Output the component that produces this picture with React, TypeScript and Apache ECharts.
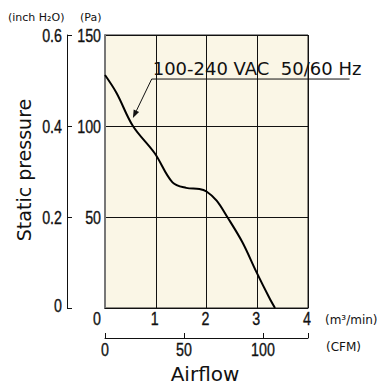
import React, { useEffect, useRef } from "react";
import * as echarts from "echarts";

const flowM3 = [0, 0.23, 0.55, 0.98, 1.33, 1.6, 1.86, 2.0, 2.2, 2.41, 2.71, 2.98, 3.24, 3.35];
const pressurePa = [128, 118, 100, 85, 69, 66, 65.4, 64, 59, 50, 36, 20, 5.5, 0];
const m3Ticks = { min: 0, max: 4, interval: 1 };
const cfmTicks = { min: 0, max: 128.5, interval: 50 };
const paTicks = { min: 0, max: 150, interval: 50 };
const inchTicks = { min: 0, max: 0.6, interval: 0.2 };
const m3TickValues = [0, 1, 2, 3, 4];
const m3TickLabels = ["0", "1", "2", "3", "4"];
const cfmTickValues = [0, 50, 100];
const cfmTickLabels = ["0", "50", "100"];
const paTickValues = [50, 100, 150];
const paTickLabels = ["50", "100", "150"];
const inchTickValues = [0, 0.2, 0.4, 0.6];
const inchTickLabels = ["0", "0.2", "0.4", "0.6"];
const noteText = "100-240 VAC\u00a0 50/60 Hz";
// annotation anchors in data coordinates [m3/min, Pa]
const noteArrowTip = [0.55, 104.4];
const noteElbow = [0.92, 125.8];
const noteEnd = [4.82, 125.8];

const SANS = "'DejaVu Sans', sans-serif";
const DIGITS = "'Liberation Sans', Arial, sans-serif";

export default function App() {
  const ref = useRef<HTMLDivElement>(null);
  useEffect(() => {
    if (!ref.current) return;
    const chart = echarts.init(ref.current, null, { renderer: "svg" });
    const lineClr = "#111";
    chart.setOption({
      animation: false,
      backgroundColor: "#fff",
      grid: {
        left: 105, top: 35, width: 203, height: 273,
        show: true, backgroundColor: "#faf6e6", borderColor: "#222", borderWidth: 1,
        outerBoundsMode: "none",
      },
      xAxis: [
        {
          type: "value", ...m3Ticks, position: "bottom",
          axisLine: { show: true, onZero: false, lineStyle: { color: lineClr, width: 1 } },
          axisTick: { show: false },
          splitLine: { show: true, lineStyle: { color: lineClr, width: 1 } },
          axisLabel: { show: false },
        },
        {
          type: "value", ...cfmTicks, position: "bottom", offset: 30,
          axisLine: { show: true, onZero: false, lineStyle: { color: lineClr, width: 1 } },
          axisTick: { show: true, inside: true, length: 5, lineStyle: { color: lineClr } },
          splitLine: { show: false },
          axisLabel: { show: false },
        },
      ],
      yAxis: [
        {
          type: "value", ...paTicks, position: "left",
          axisLine: { show: true, onZero: false, lineStyle: { color: "#777", width: 2 } },
          axisTick: { show: false },
          splitLine: { show: true, lineStyle: { color: lineClr, width: 1 } },
          axisLabel: { show: false },
        },
        {
          type: "value", ...inchTicks, position: "left", offset: 38,
          axisLine: { show: true, onZero: false, lineStyle: { color: lineClr, width: 1 } },
          axisTick: { show: true, inside: true, length: 5, lineStyle: { color: lineClr } },
          splitLine: { show: false },
          axisLabel: { show: false },
        },
      ],
      series: [
        {
          type: "line", xAxisIndex: 0, yAxisIndex: 0,
          data: flowM3.map((x, i) => [x, pressurePa[i]]),
          smooth: 0.35, symbol: "none",
          lineStyle: { color: "#000", width: 2 },
        },
      ],
    });

    const px = (idx: number, v: number) => chart.convertToPixel({ xAxisIndex: idx }, v) as number;
    const py = (idx: number, v: number) => chart.convertToPixel({ yAxisIndex: idx }, v) as number;
    const bottomY = py(0, 0);
    const leftX = px(0, 0);

    const digitStyle = (align: string) => ({
      fontSize: 19, fontFamily: DIGITS, fill: lineClr, align, verticalAlign: "middle",
      stroke: lineClr, lineWidth: 0.35,
    });
    const labels: any[] = [];
    m3TickValues.forEach((v, i) => {
      labels.push({ type: "text", x: px(0, v) - (v === 0 ? 8 : 1), y: bottomY + 11, scaleX: 0.75, style: { text: m3TickLabels[i], ...digitStyle("center") } });
    });
    cfmTickValues.forEach((v, i) => {
      labels.push({ type: "text", x: px(1, v), y: bottomY + 42, scaleX: 0.75, style: { text: cfmTickLabels[i], ...digitStyle("center") } });
    });
    paTickValues.forEach((v, i) => {
      labels.push({ type: "text", x: leftX - 4, y: py(0, v) + 1, scaleX: 0.75, style: { text: paTickLabels[i], ...digitStyle("right") } });
    });
    inchTickValues.forEach((v, i) => {
      labels.push({ type: "text", x: leftX - 43, y: py(1, v) - (v === 0 ? 2 : -1), scaleX: 0.75, style: { text: inchTickLabels[i], ...digitStyle("right") } });
    });

    const tip = chart.convertToPixel({ gridIndex: 0 }, noteArrowTip) as number[];
    const elbow = chart.convertToPixel({ gridIndex: 0 }, noteElbow) as number[];
    const end = chart.convertToPixel({ gridIndex: 0 }, noteEnd) as number[];
    const dx = tip[0] - elbow[0];
    const dy = tip[1] - elbow[1];
    const len = Math.hypot(dx, dy);
    const ux = dx / len, uy = dy / len;
    const ah = 8, aw = 3;
    const bx = tip[0] - ux * ah, by = tip[1] - uy * ah;
    const arrowPts = [
      [tip[0], tip[1]],
      [bx - uy * aw, by + ux * aw],
      [bx + uy * aw, by - ux * aw],
    ];

    chart.setOption({
      graphic: [
        ...labels,
        { type: "text", x: 8, y: 17, style: { text: "(inch H₂O)", fontSize: 11, fontFamily: SANS, fill: "#111", verticalAlign: "middle" } },
        { type: "text", x: 80, y: 17, style: { text: "(Pa)", fontSize: 11, fontFamily: SANS, fill: "#111", verticalAlign: "middle" } },
        { type: "text", x: 325, y: 320, style: { text: "(m³/min)", fontSize: 12, fontFamily: SANS, fill: "#111", verticalAlign: "middle" } },
        { type: "text", x: 326, y: 347, style: { text: "(CFM)", fontSize: 12, fontFamily: SANS, fill: "#111", verticalAlign: "middle" } },
        { type: "text", x: 205, y: 374, style: { text: "Airflow", fontSize: 20, fontFamily: SANS, fill: "#111", align: "center", verticalAlign: "middle" } },
        { type: "text", x: 24, y: 170, rotation: Math.PI / 2, style: { text: "Static pressure", fontSize: 19, fontFamily: SANS, fill: "#111", align: "center", verticalAlign: "middle" } },
        { type: "text", x: elbow[0] + 1, y: elbow[1] - 2, style: { text: noteText, fontSize: 18, fontFamily: SANS, fill: "#111", align: "left", verticalAlign: "bottom" } },
        { type: "line", shape: { x1: elbow[0], y1: elbow[1], x2: end[0], y2: end[1] }, style: { stroke: "#111", lineWidth: 1 } },
        { type: "line", shape: { x1: elbow[0], y1: elbow[1], x2: bx, y2: by }, style: { stroke: "#111", lineWidth: 1 } },
        { type: "polygon", shape: { points: arrowPts }, style: { fill: "#111" } },
      ],
    });
    return () => chart.dispose();
  }, []);
  return <div ref={ref} style={{ width: 377, height: 387, position: "absolute", left: 0, top: 0 }} />;
}
